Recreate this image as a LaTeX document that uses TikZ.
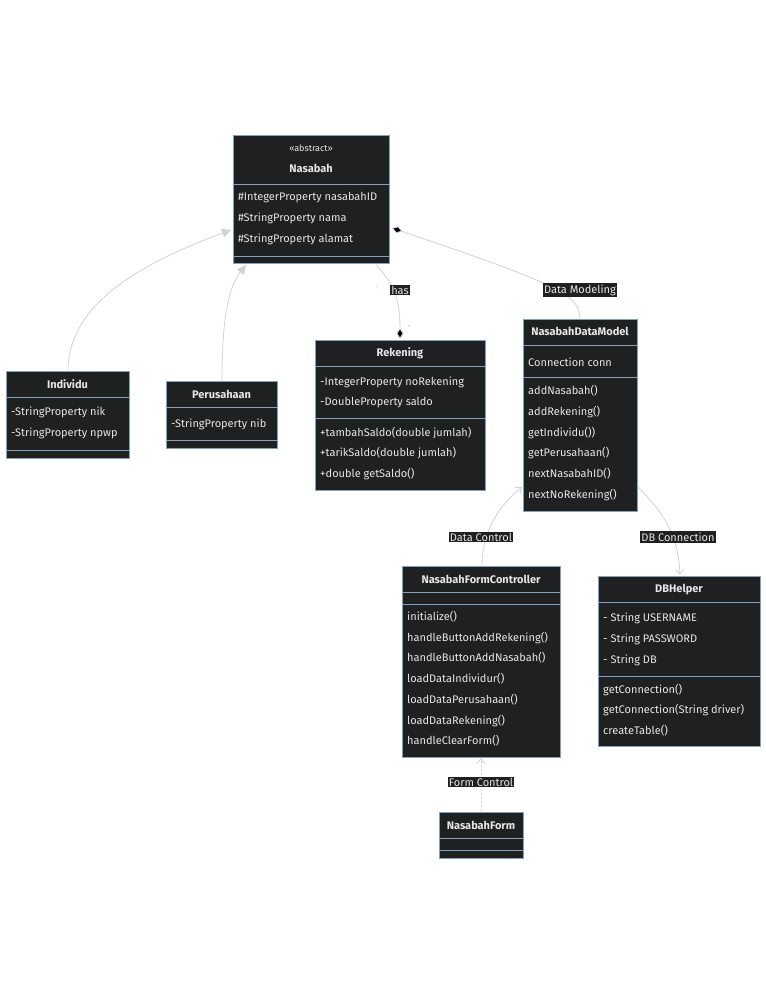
\documentclass[tikz,border=0pt]{standalone}
\usepackage{fontspec}
\setmainfont{Fira Sans}
\usetikzlibrary{arrows.meta,positioning}
\definecolor{boxbg}{HTML}{1F2020}
\definecolor{boxline}{HTML}{81A1C1}
\definecolor{linkc}{HTML}{D3D3D3}
\definecolor{txtc}{HTML}{E6E6E6}
\begin{document}
\begin{tikzpicture}[
  x=1pt,y=-1pt,
  umlbox/.style={draw=boxline,fill=boxbg,anchor=north west,inner sep=0pt,line width=0.8pt},
  divider/.style={draw=boxline,line width=0.8pt},
  txt/.style={text=txtc,anchor=west,inner sep=0pt,font=\fontsize{11}{13}\selectfont},
  ttl/.style={text=txtc,inner sep=0pt,font=\fontsize{11}{13}\selectfont\bfseries},
  lbl/.style={fill=boxbg,text=txtc,inner sep=1.2pt,font=\fontsize{11}{13}\selectfont},
  link/.style={draw=linkc,line width=0.8pt},
  inherit/.style={link,-{Triangle[length=9pt,width=9pt,fill=linkc]}},
  compose/.style={link,-{Diamond[length=11pt,width=7pt,fill=black]}},
  assoc/.style={link,-{Straight Barb[length=5pt,width=8pt]}}
  ]
  \useasboundingbox[fill=white] (0,0) rectangle (766,994);
  % classes
  \node[umlbox,minimum width=156pt,minimum height=128pt] (nasabah) at (233,135) {};
  \draw[divider] (233,184) -- (389,184) (233,256) -- (389,256);
  \node[ttl,font=\fontsize{9}{11}\selectfont] (nasabahst) at (311,148) {«abstract»};
  \node[ttl] (nasabaht) at (311,168) {Nasabah};
  \node[txt] (n1) at (238,198) {\#IntegerProperty nasabahID};
  \node[txt] (n2) at (238,218) {\#StringProperty nama};
  \node[txt] (n3) at (238,239) {\#StringProperty alamat};

  \node[umlbox,minimum width=123pt,minimum height=87pt] (individu) at (6,371) {};
  \draw[divider] (6,397) -- (129,397) (6,450) -- (129,450);
  \node[ttl] (individut) at (67.5,384) {Individu};
  \node[txt] (i1) at (11,412) {-StringProperty nik};
  \node[txt] (i2) at (11,433) {-StringProperty npwp};

  \node[umlbox,minimum width=111pt,minimum height=67pt] (perusahaan) at (166,381) {};
  \draw[divider] (166,407) -- (277,407) (166,440) -- (277,440);
  \node[ttl] (perusahaant) at (221.5,394) {Perusahaan};
  \node[txt] (p1) at (171,424) {-StringProperty nib};

  \node[umlbox,minimum width=170pt,minimum height=150pt] (rekening) at (315,340) {};
  \draw[divider] (315,366) -- (485,366) (315,418) -- (485,418);
  \node[ttl] (rekeningt) at (400,353) {Rekening};
  \node[txt] (r1) at (320,382) {-IntegerProperty noRekening};
  \node[txt] (r2) at (320,403) {-DoubleProperty saldo};
  \node[txt] (r3) at (320,433) {+tambahSaldo(double jumlah)};
  \node[txt] (r4) at (320,453) {+tarikSaldo(double jumlah)};
  \node[txt] (r5) at (320,474) {+double getSaldo()};

  \node[umlbox,minimum width=114pt,minimum height=192pt] (datamodel) at (523,319) {};
  \draw[divider] (523,345) -- (637,345) (523,377) -- (637,377);
  \node[ttl] (datamodelt) at (580,331) {NasabahDataModel};
  \node[txt] (d1) at (528,362) {Connection conn};
  \node[txt] (d2) at (528,391) {addNasabah()};
  \node[txt] (d3) at (528,412) {addRekening()};
  \node[txt] (d4) at (528,433) {getIndividu())};
  \node[txt] (d5) at (528,453) {getPerusahaan()};
  \node[txt] (d6) at (528,474) {nextNasabahID()};
  \node[txt] (d7) at (528,495) {nextNoRekening()};

  \node[umlbox,minimum width=158pt,minimum height=191pt] (controller) at (402,566) {};
  \draw[divider] (402,592) -- (560,592) (402,604) -- (560,604);
  \node[ttl] (controllert) at (481,579) {NasabahFormController};
  \node[txt] (c1) at (407,617) {initialize()};
  \node[txt] (c2) at (407,638) {handleButtonAddRekening()};
  \node[txt] (c3) at (407,658) {handleButtonAddNasabah()};
  \node[txt] (c4) at (407,679) {loadDataIndividur()};
  \node[txt] (c5) at (407,700) {loadDataPerusahaan()};
  \node[txt] (c6) at (407,721) {loadDataRekening()};
  \node[txt] (c7) at (407,741) {handleClearForm()};

  \node[umlbox,minimum width=162pt,minimum height=170pt] (dbhelper) at (598,576) {};
  \draw[divider] (598,602) -- (760,602) (598,676) -- (760,676);
  \node[ttl] (dbhelpert) at (679,590) {DBHelper};
  \node[txt] (h1) at (603,618) {- String USERNAME};
  \node[txt] (h2) at (603,639) {- String PASSWORD};
  \node[txt] (h3) at (603,660) {- String DB};
  \node[txt] (h4) at (603,690) {getConnection()};
  \node[txt] (h5) at (603,710) {getConnection(String driver)};
  \node[txt] (h6) at (603,731) {createTable()};

  \node[umlbox,minimum width=84pt,minimum height=46pt] (form) at (439,812) {};
  \draw[divider] (439,838) -- (523,838) (439,850) -- (523,850);
  \node[ttl] (formt) at (481,825) {NasabahForm};

  % connectors
  \coordinate (indtop) at (68,371);
  \coordinate (pertop) at (222,381);
  \coordinate (nasleft) at (231,230);
  \coordinate (nasbot) at (246,265);
  \draw[inherit] (indtop) .. controls (68,300) and (150,260) .. (nasleft);
  \draw[inherit] (pertop) .. controls (222,330) and (226,290) .. (nasbot);
  \coordinate (nashas) at (376,265);
  \coordinate (rektop) at (400,339);
  \draw[compose] (nashas) .. controls (395,285) and (400,300) .. (rektop);
  \node[lbl] (haslbl) at (400,290) {has};
  \node[text=linkc,font=\fontsize{6}{7}\selectfont] (mult1) at (377,287) {1};
  \node[text=linkc,font=\fontsize{6}{7}\selectfont] (mult2) at (409,327) {*};
  \coordinate (dmtop) at (580,319);
  \coordinate (nasright) at (392,228);
  \draw[compose] (dmtop) .. controls (580,295) and (560,285) .. (nasright);
  \node[lbl] (dmlbl) at (580,290) {Data Modeling};
  \coordinate (ctltop) at (482,566);
  \coordinate (dmbl) at (522,487);
  \draw[assoc] (ctltop) .. controls (482,530) and (500,505) .. (dmbl);
  \node[lbl] (dclbl) at (481,537) {Data Control};
  \coordinate (dmbr) at (638,487);
  \coordinate (dbtop) at (680,575);
  \draw[assoc] (dmbr) .. controls (660,510) and (678,530) .. (dbtop);
  \node[lbl] (dblbl) at (678,537) {DB Connection};
  \coordinate (formtop) at (481,811);
  \coordinate (ctlbot) at (481,758);
  \draw[assoc,dashed,dash pattern=on 2pt off 2pt] (formtop) -- (ctlbot);
  \node[lbl] (fclbl) at (481,782) {Form Control};
\end{tikzpicture}
\end{document}
